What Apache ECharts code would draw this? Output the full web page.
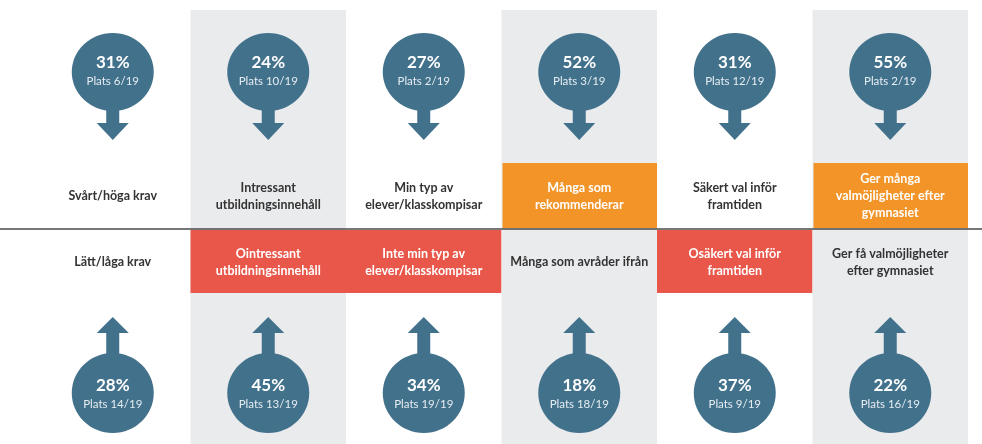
<!DOCTYPE html>
<html>
<head>
<meta charset="utf-8">
<script src="https://cdn.jsdelivr.net/npm/echarts@6/dist/echarts.min.js"></script>
<style>
  html, body { margin: 0; padding: 0; background: #fff; }
  #chart { width: 982px; height: 444px; }
</style>
</head>
<body>
<div id="chart"></div>
<script>
// övre raden (positiva faktorer) och nedre raden (negativa faktorer)
var topLabels = ['Svårt/höga krav', 'Intressant\nutbildningsinnehåll', 'Min typ av\nelever/klasskompisar', 'Många som\nrekommenderar', 'Säkert val inför\nframtiden', 'Ger många\nvalmöjligheter efter\ngymnasiet'];
var bottomLabels = ['Lätt/låga krav', 'Ointressant\nutbildningsinnehåll', 'Inte min typ av\nelever/klasskompisar', 'Många som avråder ifrån', 'Osäkert val inför\nframtiden', 'Ger få valmöjligheter\nefter gymnasiet'];
var topPct = [31, 24, 27, 52, 31, 55];
var topRank = [6, 10, 2, 3, 12, 2];
var bottomPct = [28, 45, 34, 18, 37, 22];
var bottomRank = [14, 13, 19, 18, 9, 16];
var totalRank = 19;
// markerade rutor: 1 = markerad
var topHighlight = [0, 0, 0, 1, 0, 1];
var bottomHighlight = [0, 1, 1, 0, 1, 0];

var BLUE = '#42718c';
var ORANGE = '#f39428';
var RED = '#e9574a';
var GRAY = '#eaebed';
var FONT = 'Lato, "Open Sans", sans-serif';

var myChart = echarts.init(document.getElementById('chart'));

function renderItem(params, api) {
  var i = api.value(0);
  var cx = api.coord([i, 0])[0];
  var w = api.size([1, 0])[0];
  var x0 = cx - w / 2;
  var kids = [];

  // grå bakgrund varannan kolumn
  if (i % 2 === 1) {
    kids.push({ type: 'rect', shape: { x: x0, y: 10, width: w, height: 440 }, style: { fill: GRAY } });
  }
  if (topHighlight[i]) {
    kids.push({ type: 'rect', shape: { x: x0 + 1, y: 163, width: w - 1, height: 65 }, style: { fill: ORANGE } });
  }
  if (bottomHighlight[i]) {
    kids.push({ type: 'rect', shape: { x: x0, y: 230, width: w, height: 63 }, style: { fill: RED } });
  }

  // övre cirkel med pil nedåt
  kids.push({ type: 'rect', shape: { x: cx - 6.5, y: 100, width: 13, height: 25 }, style: { fill: BLUE } });
  kids.push({ type: 'polygon', shape: { points: [[cx - 16, 123], [cx + 16, 123], [cx, 140]] }, style: { fill: BLUE } });
  kids.push({ type: 'ellipse', shape: { cx: cx, cy: 72, rx: 41, ry: 39 }, style: { fill: BLUE } });
  kids.push({ type: 'text', style: { x: cx, y: 63, text: topPct[i] + '%', fill: '#fff', font: 'bold 17px ' + FONT, align: 'center', verticalAlign: 'middle' } });
  kids.push({ type: 'text', style: { x: cx, y: 81, text: 'Plats ' + topRank[i] + '/' + totalRank, fill: '#e6edf1', font: '11.5px ' + FONT, align: 'center', verticalAlign: 'middle' } });

  // nedre cirkel med pil uppåt
  kids.push({ type: 'rect', shape: { x: cx - 6.5, y: 331, width: 13, height: 30 }, style: { fill: BLUE } });
  kids.push({ type: 'polygon', shape: { points: [[cx, 317], [cx - 16, 333], [cx + 16, 333]] }, style: { fill: BLUE } });
  kids.push({ type: 'ellipse', shape: { cx: cx, cy: 393, rx: 41, ry: 40 }, style: { fill: BLUE } });
  kids.push({ type: 'text', style: { x: cx, y: 386, text: bottomPct[i] + '%', fill: '#fff', font: 'bold 17px ' + FONT, align: 'center', verticalAlign: 'middle' } });
  kids.push({ type: 'text', style: { x: cx, y: 404, text: 'Plats ' + bottomRank[i] + '/' + totalRank, fill: '#e6edf1', font: '11.5px ' + FONT, align: 'center', verticalAlign: 'middle' } });

  // etiketter
  kids.push({ type: 'text', style: { x: cx, y: 196, text: topLabels[i], fill: topHighlight[i] ? '#fff' : '#333', font: 'bold 12.5px ' + FONT, lineHeight: 17, align: 'center', verticalAlign: 'middle' } });
  kids.push({ type: 'text', style: { x: cx, y: 262, text: bottomLabels[i], fill: bottomHighlight[i] ? '#fff' : '#333', font: 'bold 12.5px ' + FONT, lineHeight: 17, align: 'center', verticalAlign: 'middle' } });

  return { type: 'group', children: kids };
}

var option = {
  backgroundColor: '#fff',
  animation: false,
  grid: { left: 35, right: 14, top: 0, bottom: 0 },
  xAxis: { type: 'category', data: topLabels, show: false },
  yAxis: { type: 'value', min: 0, max: 1, show: false },
  graphic: [{
    type: 'line', z: 100,
    shape: { x1: 0, y1: 229, x2: 982, y2: 229 },
    style: { stroke: '#4a4a4a', lineWidth: 1.5 }
  }],
  series: [{
    type: 'custom',
    renderItem: renderItem,
    data: topLabels.map(function (c, i) { return [i]; }),
    silent: true
  }]
};
myChart.setOption(option);
window.addEventListener('resize', function () { myChart.resize(); });
</script>
</body>
</html>
